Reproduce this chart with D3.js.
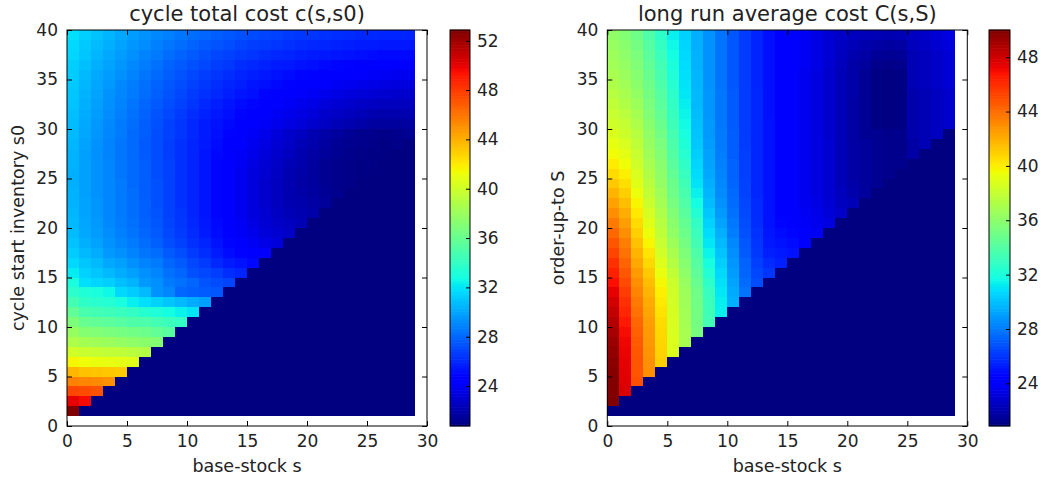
<!DOCTYPE html>
<meta charset="utf-8">
<script src="https://d3js.org/d3.v7.min.js"></script>
<style>
    body { margin: 0; background: #fff; }
    text { font-family: "DejaVu Sans", sans-serif; fill: #222; }
    .frame { fill: none; stroke: #000; stroke-width: 1; }
    .axis line { stroke: #000; }
    .axis path { display: none; }
    .cell { shape-rendering: crispEdges; }
</style>
<body>
<svg class="chart" width="1041" height="478"></svg>
<script>
    ///////////////////////
    // Data

    // base-stock s (columns of both panels)
    var baseStock = [0, 1, 2, 3, 4, 5, 6, 7, 8, 9, 10, 11, 12, 13, 14, 15, 16, 17, 18, 19, 20, 21, 22, 23, 24, 25, 26, 27, 28];
    // s0 / S levels (rows of both panels)
    var levels = [1, 2, 3, 4, 5, 6, 7, 8, 9, 10, 11, 12, 13, 14, 15, 16, 17, 18, 19, 20,
        21, 22, 23, 24, 25, 26, 27, 28, 29, 30, 31, 32, 33, 34, 35, 36, 37, 38, 39];

    var xTicks = [0, 5, 10, 15, 20, 25, 30];
    var yTicks = [0, 5, 10, 15, 20, 25, 30, 35, 40];
    var cycleBarTicks = [24, 28, 32, 36, 40, 44, 48, 52];
    var avgBarTicks = [24, 28, 32, 36, 40, 44, 48];

    // colour range of each panel, and the value shown where nothing was computed
    var cycleRange = [20.76, 52.87];
    var avgRange = [20.86, 50.0];

    // cycle total cost c(s,s0): one row per s0 = 1..39, starting at s = 0 (s < s0)
    var cycleCost = [
        [52.9],
        [50.0, 49.6],
        [47.6, 47.4, 47.2],
        [45.6, 45.4, 45.3, 45.1],
        [43.8, 43.4, 43.3, 43.2, 43.1],
        [41.6, 41.3, 41.1, 41.0, 40.9, 40.7],
        [40.1, 39.8, 39.7, 39.5, 39.4, 39.2, 39.0],
        [38.8, 38.4, 38.2, 38.0, 37.8, 37.6, 37.4, 37.1],
        [37.8, 37.2, 37.0, 36.8, 36.6, 36.4, 36.2, 35.8, 35.4],
        [36.9, 36.0, 35.8, 35.6, 35.3, 35.1, 35.0, 34.6, 34.3, 34.0],
        [35.8, 34.8, 34.6, 34.4, 34.2, 34.0, 33.5, 33.2, 32.8, 32.4, 32.0],
        [34.6, 33.8, 33.6, 33.4, 33.0, 32.3, 31.8, 31.4, 31.0, 30.6, 30.2, 29.8],
        [33.7, 33.2, 33.0, 32.6, 31.6, 31.2, 30.6, 29.4, 29.0, 28.0, 27.8, 27.6, 27.5],
        [33.0, 31.8, 31.5, 31.3, 30.8, 30.4, 29.6, 29.3, 28.6, 28.3, 28.0, 27.4, 27.1, 26.9],
        [32.2, 31.4, 31.0, 30.6, 30.2, 29.8, 29.3, 29.0, 28.3, 28.0, 27.3, 27.0, 26.7, 26.2, 25.9],
        [31.6, 31.0, 30.6, 30.1, 29.8, 29.3, 28.9, 28.6, 28.0, 27.6, 27.0, 26.6, 26.0, 25.6, 25.3, 25.0],
        [31.2, 30.6, 30.2, 29.6, 29.3, 28.9, 28.5, 28.2, 27.6, 27.2, 26.6, 26.2, 25.6, 25.1, 24.8, 24.5, 24.2],
        [30.9, 30.3, 29.9, 29.4, 29.0, 28.6, 28.2, 27.8, 27.2, 26.8, 26.3, 25.9, 25.3, 24.9, 24.4, 24.0, 23.6, 23.3],
        [30.7, 30.1, 29.7, 29.2, 28.8, 28.4, 28.0, 27.6, 27.0, 26.6, 26.1, 25.6, 25.1, 24.6, 24.1, 23.7, 23.3, 23.0, 22.7],
        [30.6, 30.0, 29.6, 29.1, 28.7, 28.3, 27.9, 27.5, 26.9, 26.5, 26.0, 25.5, 25.0, 24.5, 24.0, 23.5, 23.1, 22.8, 22.5, 22.3],
        [30.5, 29.9, 29.5, 29.0, 28.6, 28.2, 27.8, 27.4, 26.8, 26.4, 25.9, 25.4, 24.9, 24.4, 23.9, 23.4, 23.0, 22.6, 22.3, 22.1, 21.9],
        [30.4, 29.9, 29.5, 29.0, 28.6, 28.2, 27.8, 27.3, 26.8, 26.3, 25.9, 25.4, 24.9, 24.4, 23.9, 23.4, 22.9, 22.5, 22.2, 22.0, 21.8, 21.5],
        [30.4, 29.8, 29.4, 29.0, 28.6, 28.2, 27.7, 27.3, 26.8, 26.3, 25.9, 25.4, 24.9, 24.4, 23.9, 23.4, 22.9, 22.5, 22.1, 21.9, 21.7, 21.4, 21.2],
        [30.3, 29.8, 29.4, 29.0, 28.6, 28.1, 27.7, 27.3, 26.8, 26.3, 25.9, 25.4, 24.9, 24.4, 23.9, 23.4, 22.9, 22.5, 22.1, 21.8, 21.6, 21.3, 21.1, 21.0],
        [30.3, 29.8, 29.4, 29.0, 28.5, 28.1, 27.7, 27.2, 26.8, 26.3, 25.9, 25.4, 24.9, 24.4, 23.9, 23.4, 23.0, 22.6, 22.2, 21.9, 21.6, 21.3, 21.1, 21.0, 20.9],
        [30.4, 29.8, 29.4, 29.0, 28.5, 28.1, 27.7, 27.2, 26.8, 26.3, 25.9, 25.4, 24.9, 24.5, 24.0, 23.5, 23.1, 22.7, 22.3, 22.0, 21.6, 21.3, 21.1, 21.0, 20.9, 20.9],
        [30.4, 29.8, 29.3, 28.9, 28.5, 28.1, 27.6, 27.2, 26.7, 26.3, 25.9, 25.4, 25.0, 24.6, 24.1, 23.7, 23.3, 22.9, 22.5, 22.1, 21.8, 21.5, 21.3, 21.1, 21.0, 20.9, 20.9],
        [30.5, 29.9, 29.4, 28.9, 28.5, 28.1, 27.6, 27.2, 26.7, 26.3, 25.9, 25.5, 25.1, 24.7, 24.3, 23.9, 23.5, 23.1, 22.7, 22.3, 22.0, 21.7, 21.4, 21.2, 21.1, 21.0, 20.9, 21.0],
        [30.6, 30.0, 29.5, 29.0, 28.6, 28.1, 27.7, 27.2, 26.8, 26.4, 26.0, 25.6, 25.2, 24.8, 24.5, 24.1, 23.7, 23.3, 22.9, 22.6, 22.2, 21.9, 21.6, 21.4, 21.2, 21.1, 21.0, 21.1, 21.3],
        [30.7, 30.1, 29.6, 29.1, 28.6, 28.2, 27.7, 27.3, 26.8, 26.4, 26.0, 25.6, 25.3, 25.0, 24.7, 24.4, 24.1, 23.8, 23.5, 23.2, 22.9, 22.6, 22.3, 22.1, 21.9, 21.7, 21.6, 21.6, 21.7],
        [30.8, 30.2, 29.7, 29.2, 28.8, 28.3, 27.9, 27.4, 27.0, 26.6, 26.2, 25.8, 25.5, 25.2, 24.9, 24.6, 24.3, 24.0, 23.7, 23.5, 23.2, 22.9, 22.7, 22.5, 22.3, 22.1, 22.0, 22.0, 22.1],
        [30.9, 30.3, 29.8, 29.3, 28.9, 28.4, 28.0, 27.6, 27.2, 26.8, 26.4, 26.0, 25.7, 25.4, 25.1, 24.9, 24.6, 24.3, 24.1, 23.8, 23.6, 23.3, 23.1, 22.9, 22.7, 22.6, 22.5, 22.5, 22.5],
        [31.0, 30.4, 29.9, 29.4, 29.0, 28.6, 28.2, 27.8, 27.4, 27.0, 26.6, 26.3, 26.0, 25.7, 25.4, 25.2, 24.9, 24.7, 24.5, 24.2, 24.0, 23.8, 23.6, 23.4, 23.2, 23.1, 23.0, 22.9, 22.9],
        [31.1, 30.5, 30.0, 29.6, 29.1, 28.7, 28.3, 27.9, 27.5, 27.2, 26.8, 26.5, 26.2, 25.9, 25.7, 25.4, 25.2, 25.0, 24.8, 24.6, 24.4, 24.2, 24.0, 23.9, 23.7, 23.6, 23.5, 23.4, 23.4],
        [31.2, 30.6, 30.1, 29.7, 29.3, 28.9, 28.5, 28.1, 27.7, 27.4, 27.0, 26.7, 26.4, 26.2, 25.9, 25.7, 25.5, 25.3, 25.1, 24.9, 24.8, 24.6, 24.5, 24.3, 24.2, 24.1, 24.0, 23.9, 23.9],
        [31.3, 30.8, 30.3, 29.9, 29.5, 29.1, 28.7, 28.3, 27.9, 27.6, 27.3, 27.0, 26.7, 26.5, 26.2, 26.0, 25.8, 25.6, 25.5, 25.3, 25.2, 25.0, 24.9, 24.8, 24.7, 24.6, 24.5, 24.5, 24.4],
        [31.5, 31.0, 30.5, 30.1, 29.7, 29.3, 28.9, 28.6, 28.2, 27.9, 27.6, 27.3, 27.0, 26.8, 26.6, 26.4, 26.2, 26.0, 25.9, 25.7, 25.6, 25.5, 25.4, 25.3, 25.2, 25.1, 25.0, 25.0, 25.0],
        [31.6, 31.1, 30.7, 30.3, 29.9, 29.5, 29.2, 28.8, 28.5, 28.2, 27.9, 27.6, 27.4, 27.2, 26.9, 26.7, 26.6, 26.4, 26.3, 26.1, 26.0, 25.9, 25.8, 25.7, 25.6, 25.6, 25.5, 25.5, 25.5],
        [31.8, 31.3, 30.9, 30.5, 30.1, 29.7, 29.4, 29.1, 28.8, 28.5, 28.2, 28.0, 27.7, 27.5, 27.3, 27.1, 26.9, 26.8, 26.6, 26.5, 26.4, 26.3, 26.2, 26.1, 26.0, 26.0, 25.9, 25.9, 25.9]
    ];

    // long run average cost C(s,S): one column per s = 0..28, starting at S = s + 2
    var avgCost = [
        [50.0, 49.9, 49.9, 49.8, 49.7, 49.5, 49.3, 49.0, 48.7, 48.3, 47.9, 47.4, 46.9, 46.4, 45.9, 45.3, 44.8, 44.2, 43.6, 43.0, 42.4, 41.8, 41.2, 40.6, 40.1, 39.6, 39.2, 38.8, 38.4, 38.1, 37.8, 37.5, 37.2, 37.0, 36.8, 36.6, 36.4, 36.2],
        [47.7, 47.6, 47.5, 47.4, 47.3, 47.2, 47.0, 46.6, 46.2, 45.9, 45.5, 45.1, 44.7, 44.3, 43.9, 43.5, 43.0, 42.5, 42.0, 41.5, 41.0, 40.5, 40.0, 39.5, 39.1, 38.7, 38.3, 38.0, 37.6, 37.3, 37.0, 36.8, 36.5, 36.3, 36.1, 35.9, 35.7],
        [44.9, 44.8, 44.8, 44.7, 44.6, 44.4, 44.2, 43.9, 43.6, 43.3, 43.0, 42.6, 42.2, 41.8, 41.4, 41.0, 40.6, 40.2, 39.8, 39.4, 39.0, 38.7, 38.4, 38.1, 37.8, 37.5, 37.2, 36.9, 36.6, 36.3, 36.0, 35.8, 35.6, 35.4, 35.2, 35.0],
        [43.0, 42.9, 42.8, 42.7, 42.6, 42.5, 42.3, 42.1, 41.8, 41.5, 41.1, 40.7, 40.3, 39.8, 39.4, 39.0, 38.6, 38.2, 37.9, 37.6, 37.3, 37.0, 36.7, 36.4, 36.2, 35.9, 35.6, 35.4, 35.2, 35.0, 34.7, 34.5, 34.3, 34.1, 33.9],
        [41.0, 40.9, 40.8, 40.7, 40.6, 40.4, 40.2, 40.0, 39.7, 39.3, 38.9, 38.5, 38.1, 37.8, 37.5, 37.2, 36.9, 36.6, 36.3, 36.1, 35.9, 35.6, 35.4, 35.1, 34.8, 34.5, 34.3, 34.1, 33.8, 33.6, 33.4, 33.1, 32.9, 32.7],
        [38.8, 38.8, 38.7, 38.7, 38.6, 38.5, 38.4, 38.2, 37.8, 37.4, 37.0, 36.6, 36.2, 35.9, 35.6, 35.3, 35.0, 34.8, 34.5, 34.2, 34.0, 33.7, 33.5, 33.2, 33.0, 32.8, 32.6, 32.4, 32.2, 32.0, 31.8, 31.6, 31.4],
        [37.0, 37.0, 36.9, 36.8, 36.7, 36.6, 36.4, 36.1, 35.8, 35.5, 35.2, 34.9, 34.6, 34.2, 33.9, 33.6, 33.3, 33.0, 32.7, 32.4, 32.1, 31.9, 31.7, 31.5, 31.3, 31.1, 31.0, 30.9, 30.8, 30.7, 30.6, 30.5],
        [35.3, 35.2, 35.2, 35.1, 35.0, 34.7, 34.4, 34.1, 33.8, 33.4, 33.1, 32.8, 32.3, 31.8, 31.4, 31.0, 30.8, 30.6, 30.4, 30.2, 30.1, 30.0, 29.9, 29.8, 29.8, 29.7, 29.7, 29.6, 29.6, 29.5, 29.5],
        [33.4, 33.3, 33.2, 33.0, 32.7, 32.3, 31.9, 31.5, 31.1, 30.8, 30.5, 30.2, 29.9, 29.7, 29.5, 29.3, 29.2, 29.1, 29.0, 28.9, 28.9, 28.8, 28.8, 28.8, 28.7, 28.7, 28.7, 28.7, 28.7, 28.7],
        [31.4, 31.3, 31.1, 30.9, 30.7, 30.4, 30.1, 29.8, 29.5, 29.2, 28.9, 28.7, 28.5, 28.4, 28.3, 28.2, 28.1, 28.0, 28.0, 27.9, 27.9, 27.9, 27.9, 27.8, 27.8, 27.8, 27.8, 27.8, 27.8],
        [29.5, 29.4, 29.2, 29.0, 28.8, 28.6, 28.4, 28.1, 27.9, 27.7, 27.6, 27.5, 27.4, 27.3, 27.3, 27.2, 27.2, 27.2, 27.1, 27.1, 27.1, 27.1, 27.0, 27.0, 27.0, 27.0, 27.0, 27.0],
        [27.8, 27.6, 27.4, 27.3, 27.1, 27.0, 26.8, 26.7, 26.6, 26.5, 26.4, 26.4, 26.3, 26.3, 26.3, 26.2, 26.2, 26.2, 26.2, 26.2, 26.2, 26.2, 26.2, 26.2, 26.2, 26.2, 26.2],
        [26.7, 26.5, 26.3, 26.1, 26.0, 25.9, 25.8, 25.7, 25.7, 25.6, 25.6, 25.6, 25.6, 25.6, 25.6, 25.6, 25.6, 25.6, 25.6, 25.6, 25.5, 25.5, 25.5, 25.5, 25.5, 25.5],
        [26.0, 25.7, 25.4, 25.2, 25.1, 25.0, 25.0, 25.0, 25.0, 25.0, 25.0, 25.0, 25.0, 25.0, 25.0, 25.0, 24.9, 24.9, 24.9, 24.9, 24.9, 24.9, 24.9, 24.9, 24.9],
        [25.4, 25.2, 25.0, 24.8, 24.6, 24.5, 24.5, 24.5, 24.5, 24.4, 24.4, 24.4, 24.4, 24.4, 24.4, 24.4, 24.4, 24.4, 24.4, 24.4, 24.5, 24.5, 24.5, 24.5],
        [25.0, 24.8, 24.6, 24.4, 24.3, 24.2, 24.1, 24.1, 24.1, 24.1, 24.1, 24.1, 24.1, 24.1, 24.1, 24.1, 24.1, 24.1, 24.1, 24.2, 24.2, 24.2, 24.2],
        [24.2, 24.0, 23.9, 23.8, 23.7, 23.7, 23.7, 23.7, 23.7, 23.7, 23.7, 23.7, 23.7, 23.7, 23.7, 23.7, 23.7, 23.7, 23.8, 23.8, 23.8, 23.8],
        [23.8, 23.6, 23.5, 23.4, 23.3, 23.3, 23.3, 23.3, 23.3, 23.3, 23.3, 23.3, 23.3, 23.3, 23.3, 23.3, 23.3, 23.4, 23.4, 23.4, 23.4],
        [23.3, 23.1, 23.0, 22.9, 22.9, 22.9, 22.9, 22.9, 22.9, 22.8, 22.8, 22.8, 22.8, 22.8, 22.8, 22.8, 22.9, 23.0, 23.0, 23.0],
        [22.7, 22.5, 22.4, 22.3, 22.3, 22.3, 22.3, 22.3, 22.3, 22.3, 22.3, 22.3, 22.3, 22.3, 22.3, 22.4, 22.5, 22.6, 22.7],
        [22.2, 22.0, 21.9, 21.8, 21.8, 21.8, 21.8, 21.8, 21.8, 21.8, 21.8, 21.9, 21.9, 21.9, 21.9, 22.1, 22.3, 22.4],
        [21.6, 21.6, 21.6, 21.6, 21.6, 21.6, 21.4, 21.4, 21.4, 21.4, 21.4, 21.4, 21.4, 21.6, 21.8, 22.0, 22.3],
        [21.3, 21.3, 21.3, 21.3, 21.3, 21.3, 21.0, 21.0, 21.0, 21.0, 21.0, 21.0, 21.2, 21.5, 21.8, 22.2],
        [21.2, 21.2, 21.2, 21.2, 21.2, 20.9, 20.9, 20.9, 20.9, 20.9, 20.9, 21.1, 21.4, 21.7, 22.1],
        [21.2, 21.2, 21.2, 21.2, 21.0, 21.0, 21.0, 21.0, 21.0, 21.0, 21.2, 21.5, 21.8, 22.2],
        [21.8, 21.8, 22.0, 22.0, 22.0, 22.0, 22.0, 22.2, 22.2, 22.2, 22.2, 22.4, 22.5],
        [22.2, 22.2, 22.2, 22.2, 22.2, 22.2, 22.4, 22.4, 22.4, 22.4, 22.6, 22.7],
        [22.5, 22.5, 22.5, 22.5, 22.5, 22.7, 22.7, 22.7, 22.7, 22.9, 23.0],
        [22.8, 22.8, 22.8, 22.8, 23.0, 23.0, 23.0, 23.0, 23.2, 23.3]
    ];

    ///////////////////////
    // Jet colour map (matplotlib segment data)
    var jetR = d3.scaleLinear().domain([0, 0.35, 0.66, 0.89, 1]).range([0, 0, 1, 1, 0.5]).clamp(true);
    var jetG = d3.scaleLinear().domain([0, 0.125, 0.375, 0.64, 0.91, 1]).range([0, 0, 1, 1, 0, 0]).clamp(true);
    var jetB = d3.scaleLinear().domain([0, 0.11, 0.34, 0.65, 1]).range([0.5, 1, 1, 0, 0]).clamp(true);

    function jet(t) {
        return d3.rgb(jetR(t) * 255, jetG(t) * 255, jetB(t) * 255).toString();
    }

    var chart = d3.select(".chart");

    ///////////////////////
    // One panel: heatmap + axes + colorbar
    function drawPanel(p) {
        var x = d3.scaleLinear().domain([0, 30]).range([p.left, p.left + 360]);
        var y = d3.scaleLinear().domain([0, 40]).range([426, 30]);
        var norm = d3.scaleLinear().domain(p.range).range([0, 1]).clamp(true);

        var g = chart.append("g");

        // cells
        var cells = [];
        baseStock.forEach(function(s, j) {
            levels.forEach(function(lv, i) {
                cells.push({ s: s, lv: lv, v: p.value(i, j, s, lv) });
            });
        });

        g.append("g")
            .selectAll("rect")
            .data(cells)
            .enter().append("rect")
            .attr("class", "cell")
            .attr("x", function(d) { return x(d.s); })
            .attr("y", function(d) { return y(d.lv + 1); })
            .attr("width", function(d) { return x(d.s + 1) - x(d.s); })
            .attr("height", function(d) { return y(d.lv) - y(d.lv + 1); })
            .attr("fill", function(d) { return jet(norm(d.v)); });

        // axes, ticks inside on all four sides
        g.append("g").attr("class", "axis")
            .attr("transform", "translate(0,426)")
            .call(d3.axisBottom(x).tickValues(xTicks).tickSize(-5).tickSizeOuter(0).tickPadding(9));
        g.append("g").attr("class", "axis")
            .attr("transform", "translate(0,30)")
            .call(d3.axisTop(x).tickValues(xTicks).tickSize(-5).tickSizeOuter(0).tickFormat(""));
        g.append("g").attr("class", "axis")
            .attr("transform", "translate(" + x(0) + ",0)")
            .call(d3.axisLeft(y).tickValues(yTicks).tickSize(-5).tickSizeOuter(0).tickPadding(9));
        g.append("g").attr("class", "axis")
            .attr("transform", "translate(" + x(30) + ",0)")
            .call(d3.axisRight(y).tickValues(yTicks).tickSize(-5).tickSizeOuter(0).tickFormat(""));

        g.selectAll(".axis text").style("font-size", "17px");

        g.append("rect")
            .attr("class", "frame")
            .attr("x", x(0)).attr("y", y(40))
            .attr("width", x(30) - x(0)).attr("height", y(0) - y(40));

        // titles
        g.append("text")
            .text(p.title)
            .attr("text-anchor", "middle")
            .attr("x", (x(0) + x(30)) / 2)
            .attr("y", 21)
            .style("font-size", "21px");

        g.append("text")
            .text("base-stock s")
            .attr("text-anchor", "middle")
            .attr("x", (x(0) + x(30)) / 2)
            .attr("y", 472)
            .style("font-size", "17.5px");

        g.append("text")
            .text(p.ylabel)
            .attr("text-anchor", "middle")
            .attr("transform", "translate(" + (x(0) - 43) + "," + y(20) + ") rotate(-90)")
            .style("font-size", "17.5px");

        // colorbar
        var cb = d3.scaleLinear().domain(p.range).range([426, 30]);
        var steps = d3.range(256).map(function(k) {
            return p.range[0] + (p.range[1] - p.range[0]) * k / 256;
        });
        var step = (p.range[1] - p.range[0]) / 256;

        g.append("g")
            .selectAll("rect")
            .data(steps)
            .enter().append("rect")
            .attr("x", p.cbLeft)
            .attr("y", function(d) { return cb(d + step) - 0.3; })
            .attr("width", p.cbWidth)
            .attr("height", function(d) { return cb(d) - cb(d + step) + 0.6; })
            .attr("fill", function(d) { return jet(norm(d + step / 2)); });

        g.append("g").attr("class", "axis")
            .attr("transform", "translate(" + (p.cbLeft + p.cbWidth) + ",0)")
            .call(d3.axisRight(cb).tickValues(p.barTicks).tickSize(-4).tickSizeOuter(0).tickPadding(7))
            .selectAll("text").style("font-size", "17px");

        g.append("rect")
            .attr("class", "frame")
            .attr("x", p.cbLeft).attr("y", 30)
            .attr("width", p.cbWidth).attr("height", 396);
    }

    drawPanel({
        left: 67,
        cbLeft: 450,
        cbWidth: 20,
        range: cycleRange,
        barTicks: cycleBarTicks,
        title: "cycle total cost c(s,s0)",
        ylabel: "cycle start inventory s0",
        value: function(i, j) {
            var row = cycleCost[i];
            return (row && row[j] !== undefined) ? row[j] : cycleRange[0];
        }
    });

    drawPanel({
        left: 607.3,
        cbLeft: 989,
        cbWidth: 21,
        range: avgRange,
        barTicks: avgBarTicks,
        title: "long run average cost C(s,S)",
        ylabel: "order-up-to S",
        value: function(i, j, s, lv) {
            var col = avgCost[j];
            var k = lv - (s + 2);
            return (k >= 0 && col[k] !== undefined) ? col[k] : avgRange[0];
        }
    });
</script>
</body>
